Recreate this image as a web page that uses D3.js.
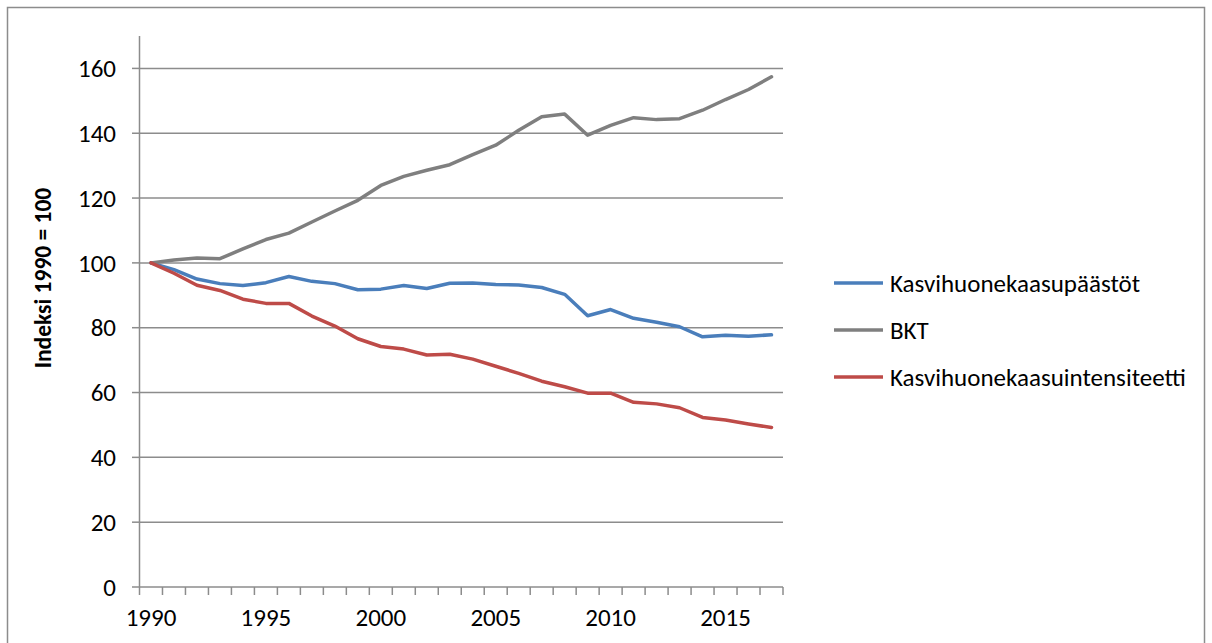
<!DOCTYPE html>
<html>
<head>
<meta charset="utf-8">
<script src="https://cdn.jsdelivr.net/npm/d3@7"></script>
<style>
  body { margin: 0; background: #fff; }
  text { font-family: Carlito, Calibri, Lato, sans-serif; fill: #000; }
</style>
</head>
<body>
<div id="chart"></div>
<script>
// categories
var years = [1990, 1991, 1992, 1993, 1994, 1995, 1996, 1997, 1998, 1999,
  2000, 2001, 2002, 2003, 2004, 2005, 2006, 2007, 2008, 2009,
  2010, 2011, 2012, 2013, 2014, 2015, 2016, 2017];

// series (index 1990 = 100)
var ghgEmissions = [100, 97.9, 95.0, 93.6, 93.0, 93.9, 95.8, 94.3, 93.6, 91.7,
  91.9, 93.0, 92.1, 93.7, 93.8, 93.3, 93.2, 92.4, 90.3, 83.7,
  85.6, 82.9, 81.7, 80.3, 77.2, 77.7, 77.4, 77.8];
var gdp = [100, 100.9, 101.5, 101.3, 104.3, 107.2, 109.2, 112.6, 116.0, 119.3,
  123.9, 126.7, 128.6, 130.3, 133.4, 136.3, 140.9, 145.1, 145.9, 139.4,
  142.4, 144.8, 144.2, 144.5, 147.1, 150.4, 153.5, 157.4];
var ghgIntensity = [100, 96.8, 93.1, 91.5, 88.8, 87.5, 87.5, 83.6, 80.5, 76.6,
  74.2, 73.4, 71.6, 71.8, 70.3, 68.1, 65.9, 63.5, 61.8, 59.8,
  59.8, 57.0, 56.5, 55.3, 52.3, 51.5, 50.3, 49.2];

var seriesNames = ["Kasvihuonekaasupäästöt", "BKT", "Kasvihuonekaasuintensiteetti"];
var seriesColors = ["#4a7ebb", "#7f7f7f", "#be4b48"];
var yTicks = [0, 20, 40, 60, 80, 100, 120, 140, 160];
var xLabels = [1990, 1995, 2000, 2005, 2010, 2015];

var svgWidth = 1212;
var svgHeight = 643;

var svg = d3.select("#chart")
  .append("svg")
  .attr("width", svgWidth)
  .attr("height", svgHeight);

// chart frame
svg.append("rect")
  .attr("x", 7.5)
  .attr("y", 7.5)
  .attr("width", 1197)
  .attr("height", 660)
  .attr("fill", "none")
  .attr("stroke", "#8c8c8c")
  .attr("stroke-width", 1.5);

var x = d3.scaleBand()
  .domain(years)
  .range([139.5, 783]);

var y = d3.scaleLinear()
  .domain([0, 170])
  .range([587, 36]);

var cx = function(yr) { return x(yr) + x.bandwidth() / 2; };

// gridlines
svg.append("g")
  .selectAll("line")
  .data(yTicks.filter(function(d) { return d > 0; }))
  .enter()
  .append("line")
  .attr("x1", 139.5)
  .attr("x2", 783)
  .attr("y1", function(d) { return y(d); })
  .attr("y2", function(d) { return y(d); })
  .attr("stroke", "#8c8c8c")
  .attr("stroke-width", 1.5);

// y axis
var yAxis = svg.append("g");
yAxis.append("line")
  .attr("x1", 139.5).attr("x2", 139.5)
  .attr("y1", y(170)).attr("y2", y(0))
  .attr("stroke", "#8c8c8c").attr("stroke-width", 1.5);
yAxis.selectAll(".ytick")
  .data(yTicks)
  .enter()
  .append("line")
  .attr("x1", 132).attr("x2", 139.5)
  .attr("y1", function(d) { return y(d); })
  .attr("y2", function(d) { return y(d); })
  .attr("stroke", "#8c8c8c").attr("stroke-width", 1.5);
yAxis.selectAll(".ylab")
  .data(yTicks)
  .enter()
  .append("text")
  .attr("x", 116)
  .attr("y", function(d) { return y(d); })
  .attr("dy", "0.35em")
  .attr("text-anchor", "end")
  .attr("font-size", "25px")
  .text(function(d) { return d; });

// x axis
var xAxis = svg.append("g");
xAxis.append("line")
  .attr("x1", 139.5).attr("x2", 783)
  .attr("y1", y(0)).attr("y2", y(0))
  .attr("stroke", "#8c8c8c").attr("stroke-width", 1.5);
xAxis.selectAll(".xtick")
  .data(years.concat([null]))
  .enter()
  .append("line")
  .attr("x1", function(d) { return d === null ? 783 : x(d); })
  .attr("x2", function(d) { return d === null ? 783 : x(d); })
  .attr("y1", y(0))
  .attr("y2", y(0) + 8)
  .attr("stroke", "#8c8c8c").attr("stroke-width", 1.5);
xAxis.selectAll(".xlab")
  .data(xLabels)
  .enter()
  .append("text")
  .attr("x", function(d) { return cx(d); })
  .attr("y", 617)
  .attr("dy", "0.35em")
  .attr("text-anchor", "middle")
  .attr("font-size", "25px")
  .text(function(d) { return d; });

// axis title
svg.append("text")
  .attr("transform", "translate(51, 278) rotate(-90)")
  .attr("text-anchor", "middle")
  .attr("font-size", "23.5px")
  .attr("font-weight", "bold")
  .text("Indeksi 1990 = 100");

// lines
var allSeries = [ghgEmissions, gdp, ghgIntensity];
var line = d3.line()
  .x(function(d, i) { return cx(years[i]); })
  .y(function(d) { return y(d); });

svg.append("g")
  .selectAll("path")
  .data(allSeries)
  .enter()
  .append("path")
  .attr("d", line)
  .attr("fill", "none")
  .attr("stroke", function(d, i) { return seriesColors[i]; })
  .attr("stroke-width", 3.5)
  .attr("stroke-linejoin", "round")
  .attr("stroke-linecap", "round");

// legend
var legend = svg.append("g")
  .selectAll("g")
  .data(seriesNames)
  .enter()
  .append("g")
  .attr("transform", function(d, i) { return "translate(834," + (283 + i * 47) + ")"; });

legend.append("line")
  .attr("x1", 0).attr("x2", 49)
  .attr("y1", 0).attr("y2", 0)
  .attr("stroke", function(d, i) { return seriesColors[i]; })
  .attr("stroke-width", 3.5);

legend.append("text")
  .attr("x", 56)
  .attr("y", 0)
  .attr("dy", "0.35em")
  .attr("font-size", "25px")
  .text(function(d) { return d; });
</script>
</body>
</html>
